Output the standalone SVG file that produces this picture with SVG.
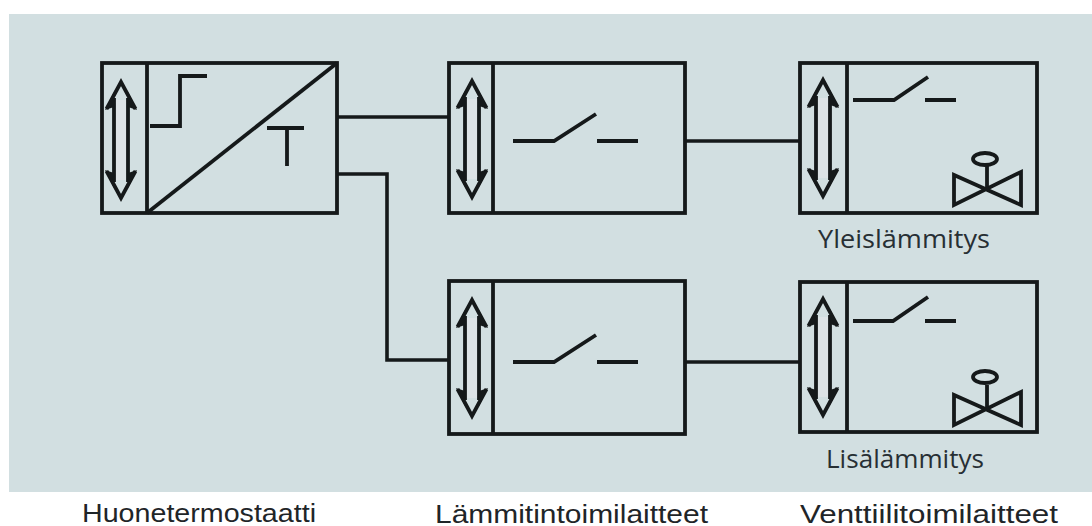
<svg xmlns="http://www.w3.org/2000/svg" width="1092" height="526" viewBox="0 0 1092 526">
<style>
.b{fill:none;stroke:#15191a;stroke-width:3.8}
.c{fill:none;stroke:#15191a;stroke-width:3.6}
.a{fill:none;stroke:#15191a;stroke-width:3.8}
.w{fill:#15191a}
.s{fill:#dde3e6}
.t{font-family:"Open Sans","Noto Sans",sans-serif;font-size:25px;fill:#272f34}
.l{font-family:"Liberation Sans","Open Sans",sans-serif;font-size:25px;fill:#1f2528}
</style>
<defs>
<g id="arrow">
<path class="s" d="M-7 -40H7V40H-7Z"/>
<path class="a" d="M-7 -42V42M7 -42V42M-14.500 -31L0 -58L14.500 -31M-14.500 31L0 58L14.500 31"/>
<path class="w" d="M-16 -30L-7 -48V-33ZM16 -30L7 -48V-33ZM-16 30L-7 48V33ZM16 30L7 48V33Z"/>
</g>
</defs>
<rect width="1092" height="526" fill="#fff"/>
<rect x="9" y="14" width="1083" height="478" fill="#d2dfe1"/>
<g id="connectors">
<path class="c" d="M337 117H449"/>
<path class="c" d="M337 174H387V360H449"/>
<path class="c" d="M685 141H801"/>
<path class="c" d="M685 362H801"/>
</g>
<g id="node-thermostat">
<rect class="b" x="102" y="63" width="235" height="150"/>
<path class="b" d="M147 63V213"/>
<use href="#arrow" transform="translate(121 140)"/>
<path class="b" d="M150 126H180V76H207"/>
<path class="b" d="M147 213L337 63"/>
<path class="b" d="M267 128H304M287 128V166"/>
</g>
<g id="node-actuator-1">
<rect class="b" x="449" y="63" width="236" height="150"/>
<path class="b" d="M493 63V213"/>
<use href="#arrow" transform="translate(472 139)"/>
<path class="b" d="M513 141H554L596 114M597 141H638"/>
</g>
<g id="node-actuator-2">
<rect class="b" x="449" y="281" width="236" height="153"/>
<path class="b" d="M493 281V434"/>
<use href="#arrow" transform="translate(472 358)"/>
<path class="b" d="M513 362H554L596 335M597 362H638"/>
</g>
<g id="node-valve-1">
<rect class="b" x="800" y="63" width="237" height="150"/>
<path class="b" d="M847 63V213"/>
<use href="#arrow" transform="translate(823 138)"/>
<path class="b" d="M853 100H894L928 77M925 100H956"/>
<path class="b" d="M954 175V205L1021 172V205L954 175Z"/>
<path class="b" d="M987 188V165"/>
<ellipse class="b" cx="985" cy="159" rx="12" ry="6"/>
<text class="t" x="818" y="248" textLength="172" lengthAdjust="spacingAndGlyphs">Yleislämmitys</text>
</g>
<g id="node-valve-2">
<rect class="b" x="800" y="282" width="237" height="150"/>
<path class="b" d="M847 282V432"/>
<use href="#arrow" transform="translate(823 357)"/>
<path class="b" d="M853 321H893L928 297M925 321H956"/>
<path class="b" d="M954 395V425L1021 392V425L954 395Z"/>
<path class="b" d="M987 407V385"/>
<ellipse class="b" cx="985" cy="377" rx="12" ry="6"/>
<text class="t" x="826" y="468" textLength="158" lengthAdjust="spacingAndGlyphs">Lisälämmitys</text>
</g>
<text class="l" x="82" y="522" textLength="234" lengthAdjust="spacingAndGlyphs">Huonetermostaatti</text>
<text class="l" x="435" y="522.500" textLength="273" lengthAdjust="spacingAndGlyphs">Lämmitintoimilaitteet</text>
<text class="l" x="800" y="522.500" textLength="258" lengthAdjust="spacingAndGlyphs">Venttiilitoimilaitteet</text>
</svg>
